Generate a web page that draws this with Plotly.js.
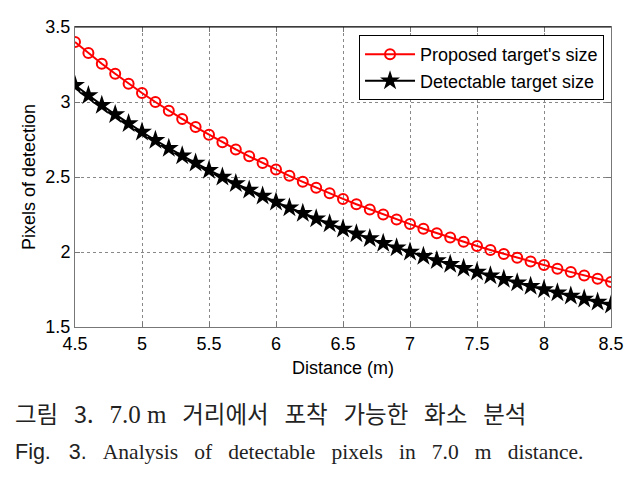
<!DOCTYPE html>
<html><head><meta charset="utf-8">
<script src="https://cdn.plot.ly/plotly-3.0.1.min.js"></script>
<style>body{margin:0;background:#fff}#c{width:640px;height:484px}</style>
</head><body><div id="c"></div>
<script>
const distance = [4.5,4.6,4.7,4.8,4.9,5.0,5.1,5.2,5.3,5.4,5.5,5.6,5.7,5.8,5.9,6.0,6.1,6.2,6.3,6.4,6.5,6.6,6.7,6.8,6.9,7.0,7.1,7.2,7.3,7.4,7.5,7.6,7.7,7.8,7.9,8.0,8.1,8.2,8.3,8.4,8.5];
const proposedSize = [3.400,3.326,3.255,3.188,3.122,3.060,3.000,2.942,2.887,2.833,2.782,2.732,2.684,2.638,2.593,2.550,2.508,2.468,2.429,2.391,2.354,2.318,2.284,2.250,2.217,2.186,2.155,2.125,2.096,2.068,2.040,2.013,1.987,1.962,1.937,1.913,1.889,1.866,1.843,1.821,1.800];
const detectableSize = [3.111,3.043,2.979,2.917,2.857,2.800,2.745,2.692,2.642,2.593,2.545,2.500,2.456,2.414,2.373,2.333,2.295,2.258,2.222,2.188,2.154,2.121,2.090,2.059,2.029,2.000,1.972,1.944,1.918,1.892,1.867,1.842,1.818,1.795,1.772,1.750,1.728,1.707,1.687,1.667,1.647];
const seriesNames = ["Proposed target's size", "Detectable target size"];
const xTicks = [4.5,5,5.5,6,6.5,7,7.5,8,8.5];
const yTicks = [1.5,2,2.5,3,3.5];
const captionKoParts = ["그림", "3.", "7.0 m", "거리에서", "포착", "가능한", "화소", "분석"];
const captionEnParts = ["Fig.", "3.", "Analysis", "of", "detectable", "pixels", "in", "7.0", "m", "distance."];

const SANS = 'Liberation Sans, Arial, sans-serif';
const gap3 = '\u00a0\u00a0\u00a0';
const koText = '<span style="font-family:Noto Sans CJK KR">' + captionKoParts.slice(0,2).join(gap3) + '</span>' + gap3 +
  '<span style="font-family:Liberation Serif;font-size:25px">' + captionKoParts[2] + '</span>' + gap3 +
  captionKoParts.slice(3).join(gap3);
const enText = '<span style="font-family:Liberation Sans">' + captionEnParts.slice(0,2).join(gap3) + '</span>' + gap3 +
  captionEnParts.slice(2).join(gap3);

const traces = [
  {x: distance, y: proposedSize, name: seriesNames[0], mode: 'lines+markers',
   line: {color: '#ff0000', width: 2},
   marker: {symbol: 'circle-open', size: 10, color: '#ff0000', line: {width: 2, color: '#ff0000'}}},
  {x: distance, y: detectableSize, name: seriesNames[1], mode: 'lines+markers',
   line: {color: '#000000', width: 2},
   marker: {symbol: 'star', size: 15, color: '#000000'}}
];

const axisCommon = {
  showline: true, mirror: 'ticks', linecolor: '#777', linewidth: 1,
  ticks: 'inside', ticklen: 5, tickcolor: '#777',
  showgrid: true, gridcolor: '#888', griddash: 'dot', gridwidth: 1,
  zeroline: false, tickfont: {family: SANS, size: 18, color: '#000'}
};

const layout = {
  width: 640, height: 484,
  margin: {l: 75, r: 29, t: 27, b: 157},
  paper_bgcolor: '#fff', plot_bgcolor: '#fff',
  font: {family: SANS, color: '#000'},
  xaxis: Object.assign({}, axisCommon, {range: [4.5, 8.5], tickvals: xTicks, ticktext: xTicks.map(String),
    title: {text: 'Distance (m)', font: {size: 18}, standoff: 8}}),
  yaxis: Object.assign({}, axisCommon, {range: [1.5, 3.5], tickvals: yTicks, ticktext: yTicks.map(String),
    title: {text: 'Pixels of detection', font: {size: 18}, standoff: 5}}),
  legend: {x: 0.987, y: 0.973, xanchor: 'right', yanchor: 'top', bgcolor: '#fff',
    bordercolor: '#000', borderwidth: 1, font: {size: 18, family: SANS},
    itemwidth: 50, tracegroupgap: 0},
  showlegend: true,
  shapes: [
    {type: 'line', xref: 'paper', yref: 'paper', x0: 0, x1: 1, y0: 1, y1: 1, line: {color: '#000', width: 1}}
  ],
  annotations: [
    {text: koText, xref: 'paper', yref: 'paper', x: -0.115, y: -0.287, xanchor: 'left', yanchor: 'middle',
     showarrow: false, font: {family: 'Noto Sans CJK KR', size: 23.5, color: '#222'}},
    {text: enText, xref: 'paper', yref: 'paper', x: -0.115, y: -0.417, xanchor: 'left', yanchor: 'middle',
     showarrow: false, font: {family: 'Liberation Serif', size: 21.5, color: '#222'}}
  ]
};

Plotly.newPlot('c', traces, layout, {displayModeBar: false, staticPlot: true});
</script></body></html>
